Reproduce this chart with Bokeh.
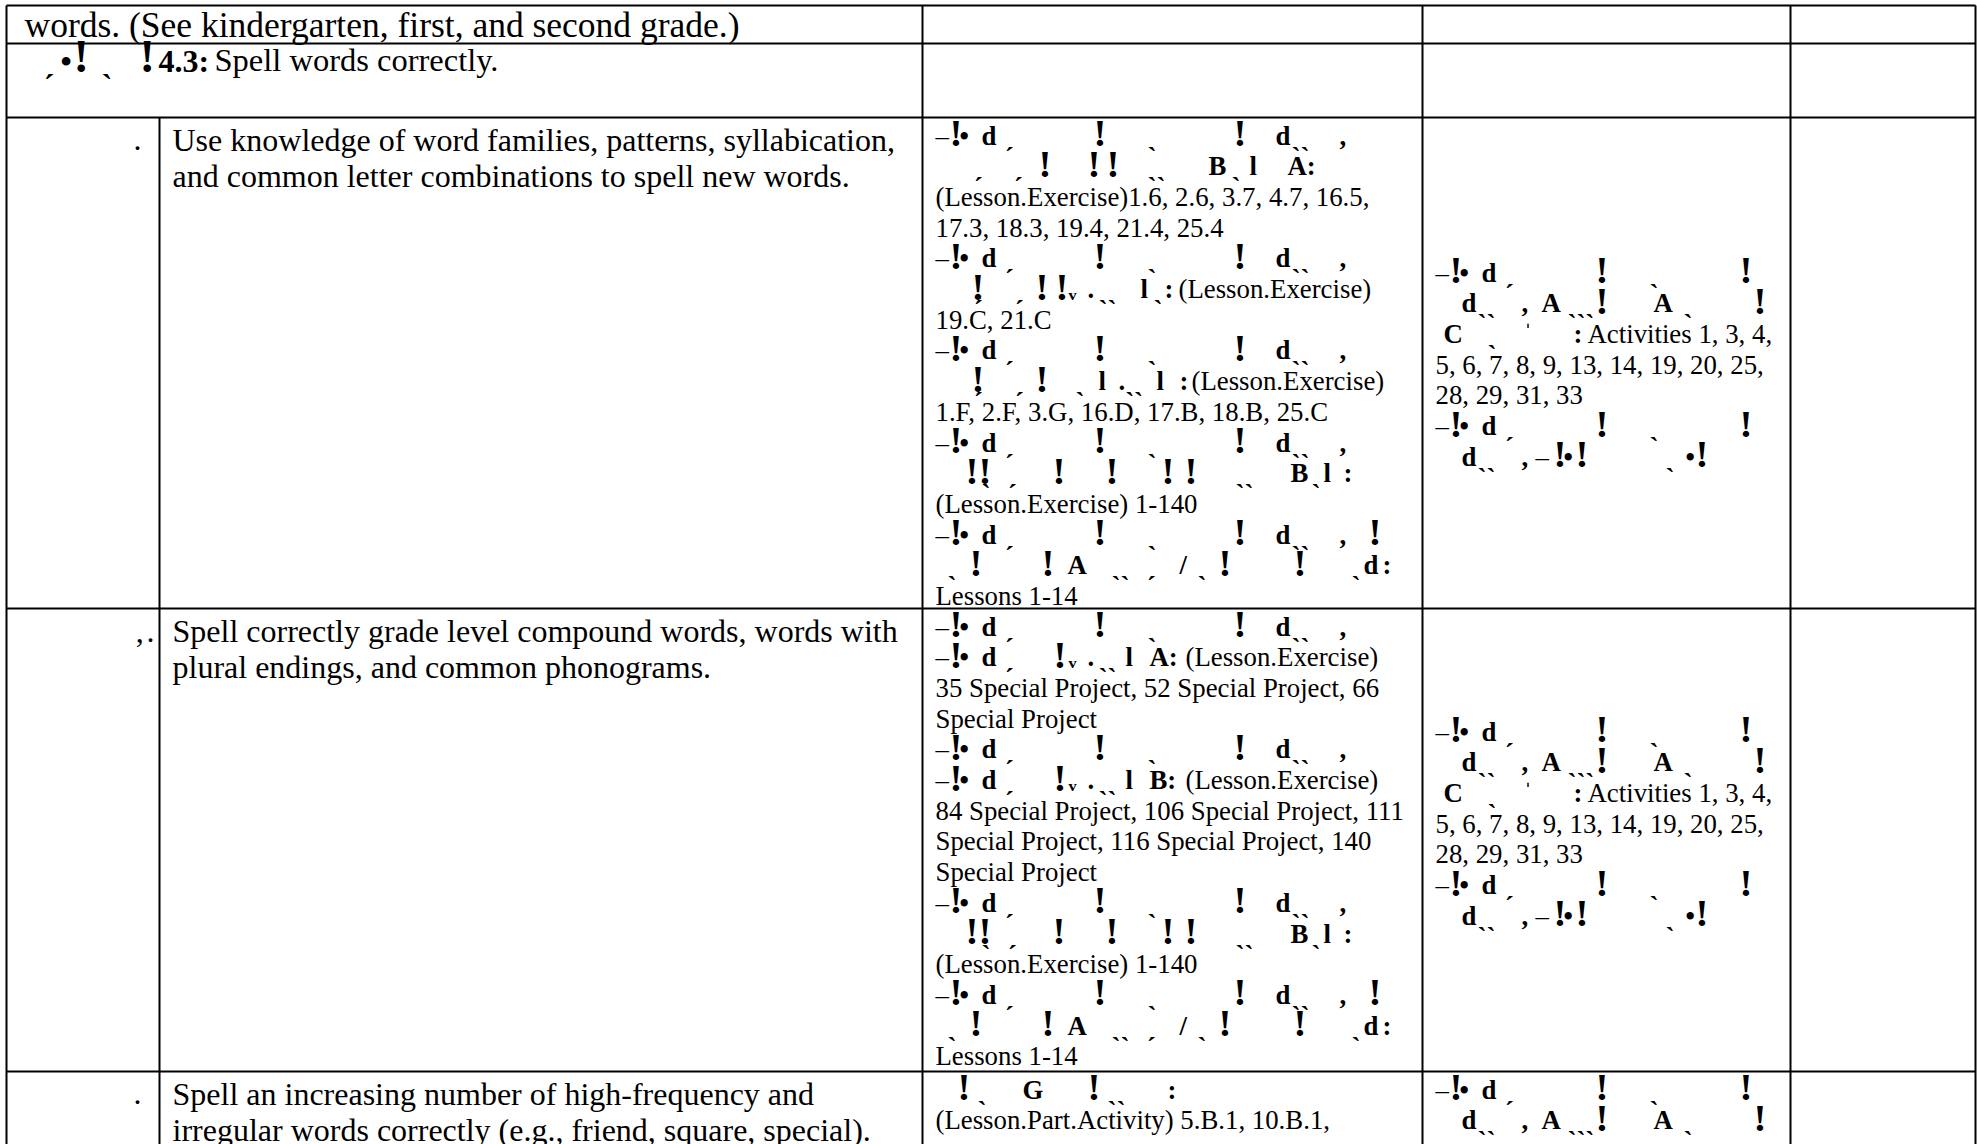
from bokeh.plotting import figure
from bokeh.models import Range1d, ColumnDataSource
from bokeh.core.properties import value
from bokeh.embed import file_html
from bokeh.resources import INLINE

# ---------------- table structure (page pixel coordinates) ----------------
row_tops = [5, 43, 117, 608, 1071, 1144]
col_edges = [6, 159, 922, 1422, 1790, 1975]

# ---------------- table content ----------------
header_text = "words. (See kindergarten, first, and second grade.)"
standard_label = "4.3:"
standard_text = "Spell words correctly."

item_markers = [".", ",\u200a.", "."]
item_texts = [
    ["Use knowledge of word families, patterns, syllabication,",
     "and common letter combinations to spell new words."],
    ["Spell correctly grade level compound words, words with",
     "plural endings, and common phonograms."],
    ["Spell an increasing number of high-frequency and",
     "irregular words correctly (e.g., friend, square, special)."],
]

B, R = True, False
# broken-font fragments (offset inside cell, text, bold)
GA = [(0, "–", R), (14, "!", B), (24, "•", B), (46, "d", B), (70, "ˏ", B),
      (158, "!", B), (212, "ˎ", B), (298, "!", B), (340, "d", B), (356, "ˎˎ", B), (404, ",", B)]
GA_END = GA + [(433, "!", B)]
G_BA = [(39, "ˏ", B), (79, "ˏ", B), (103, "!", B), (152, "!", B), (171, "!", B),
        (212, "ˎˎ", B), (273, "B", B), (296, "ˎ", B), (314, "l", B), (352, "A:", B)]
G_C1 = [(36, "!", B), (39, "ˏ", B), (80, "ˏ", B), (100, "!", B), (120, "!", B), (133, "ᵥ", B),
        (152, ".", B), (163, "ˎˎ", B), (205, "l", B), (218, "ˎ", B), (229, ":", B),
        (243, "(Lesson.Exercise)", R)]
G_C2 = [(36, "!", B), (39, "ˏ", B), (80, "ˏ", B), (100, "!", B), (140, "ˎ", B), (163, "l", B),
        (183, ".ˎˎ", B), (221, "l", B), (244, ":", B), (256, "(Lesson.Exercise)", R)]
G_BB = [(30, "!!", B), (46, "ˎ", B), (73, "ˏ", B), (117, "!", B), (170, "!", B), (226, "!", B),
        (249, "!", B), (300, "ˎˎ", B), (355, "B", B), (376, "ˎ", B), (388, "l", B), (408, ":", B)]
G_AA = [(12, "ˎ", B), (34, "!", B), (106, "!", B), (132, "A", B), (176, "ˎˎ", B), (212, "ˏ", B),
        (244, "/", B), (262, "ˎ", B), (283, "!", B), (358, "!", B), (416, "ˎ", B), (428, "d", B),
        (447, ":", B)]


def G_SP(letter):
    return [(0, "–", R), (14, "!", B), (24, "•", B), (46, "d", B), (70, "ˏ", B), (118, "!", B),
            (133, "ᵥ", B), (152, ".", B), (163, "ˎˎ", B), (190, "l", B), (214, letter + ":", B),
            (250, "(Lesson.Exercise)", R)]


G_R5 = [(22, "!", B), (42, "ˎ", B), (87, "G", B), (152, "!", B), (172, "ˎˎ", B), (232, ":", B)]


def P(s):
    return [(0, s, R)]


resources_r3 = [GA, G_BA, P("(Lesson.Exercise)1.6, 2.6, 3.7, 4.7, 16.5,"),
                P("17.3, 18.3, 19.4, 21.4, 25.4"), GA, G_C1, P("19.C, 21.C"), GA, G_C2,
                P("1.F, 2.F, 3.G, 16.D, 17.B, 18.B, 25.C"), GA, G_BB,
                P("(Lesson.Exercise) 1-140"), GA_END, G_AA, P("Lessons 1-14")]
resources_r4 = [GA, G_SP("A"), P("35 Special Project, 52 Special Project, 66"),
                P("Special Project"), GA, G_SP("B"),
                P("84 Special Project, 106 Special Project, 111"),
                P("Special Project, 116 Special Project, 140"), P("Special Project"),
                GA, G_BB, P("(Lesson.Exercise) 1-140"), GA_END, G_AA, P("Lessons 1-14")]
resources_r5 = [G_R5, P("(Lesson.Part.Activity) 5.B.1, 10.B.1,")]

C4_A = [(0, "–", R), (14, "!", B), (24, "•", B), (46, "d", B), (70, "ˏ", B),
        (160, "!", B), (214, "ˎ", B), (304, "!", B)]
C4_B = [(26, "d", B), (42, "ˎˎ", B), (86, ",", B), (106, "A", B), (132, "ˎˎˎ", B), (160, "!", B),
        (218, "A", B), (248, "ˎ", B), (318, "!", B)]
C4_C = [(8, "C", B), (52, "ˎ", B), (88, "ˈ", B), (138, ":", B), (152, "Activities 1, 3, 4,", R)]
C4_G = [(26, "d", B), (42, "ˎˎ", B), (86, ",", B), (100, "–", R), (118, "!", B), (128, "•", B),
        (140, "!", B), (230, "ˎ", B), (250, "•", B), (260, "!", B)]
activities_block = [C4_A, C4_B, C4_C, P("5, 6, 7, 8, 9, 13, 14, 19, 20, 25,"),
                    P("28, 29, 31, 33"), C4_A, C4_G]
activities_r5 = [C4_A, C4_B]

# ---------------- figure ----------------
W, H = 1977, 1144
p = figure(width=W, height=H, x_range=Range1d(0, W), y_range=Range1d(H, 0),
           output_backend="svg", toolbar_location=None, min_border=0)
p.axis.visible = False
p.xgrid.visible = False
p.ygrid.visible = False
p.outline_line_color = None
p.background_fill_color = "white"
p.border_fill_color = "white"

HEAD, BIG, SMALL = 35.5, 32.0, 26.8
groups = {}


def put(x, y, s, size, bold, align="left"):
    # y is the intended alphabetic baseline; Bokeh draws ~0.25em lower
    key = (size, bold, align)
    g = groups.setdefault(key, {"x": [], "y": [], "t": []})
    g["x"].append(x)
    g["y"].append(y - 0.25 * size)
    g["t"].append(s)


def put_line(frags, x0, y, size):
    for off, s, bold in frags:
        sz = round(size * 1.45, 1) if set(s) == {"!"} else size
        put(x0 + off, y, s, sz, bold)


# grid lines
hx0, hx1, hy0, hy1 = [], [], [], []
for y in row_tops[:-1]:
    hx0.append(col_edges[0]); hx1.append(col_edges[-1])
    hy0.append(y); hy1.append(y)
for i, x in enumerate(col_edges):
    start = row_tops[2] if i == 1 else row_tops[0]
    hx0.append(x); hx1.append(x)
    hy0.append(start); hy1.append(row_tops[-1])
p.segment(x0=hx0, y0=hy0, x1=hx1, y1=hy1, line_color="black", line_width=2)

# text placement
LH_BIG, LH_SMALL = 36.8, 30.67
# rows 1 and 2 (first two columns merged)
put(col_edges[0] + 18, 33, header_text, HEAD, R)
put_line([(38, "ˏ", B), (54, "•", B), (67, "!", B), (95, "ˎ", B), (133, "!", B)],
         col_edges[0], 68, BIG)
put(158, 68, standard_label, BIG, B)
put(214, 68, standard_text, 32.5, R)

# item rows
marker_right = [141, 154, 141]
for k in range(3):
    top = row_tops[2 + k]
    put(marker_right[k], top + 30, item_markers[k], BIG, R, align="right")
    for j, line in enumerate(item_texts[k]):
        put(col_edges[1] + 13, top + 30 + j * LH_BIG, line, BIG, R)

for k, block in enumerate([resources_r3, resources_r4, resources_r5]):
    top = row_tops[2 + k]
    for j, frags in enumerate(block):
        put_line(frags, col_edges[2] + 13, top + 25 + j * LH_SMALL, SMALL)

for k, (block, start) in enumerate([(activities_block, 162), (activities_block, 130),
                                     (activities_r5, 25)]):
    top = row_tops[2 + k]
    for j, frags in enumerate(block):
        put_line(frags, col_edges[3] + 13, top + start + j * LH_SMALL, SMALL)

for (size, bold, align), g in groups.items():
    src = ColumnDataSource(data=g)
    p.text(x="x", y="y", text="t", source=src, text_font=value("Liberation Serif"),
           text_font_size=value(f"{size}px"), text_font_style="bold" if bold else "normal",
           text_baseline="alphabetic", text_align=align, text_color="black")

open("out.html", "w").write(file_html(p, INLINE))
